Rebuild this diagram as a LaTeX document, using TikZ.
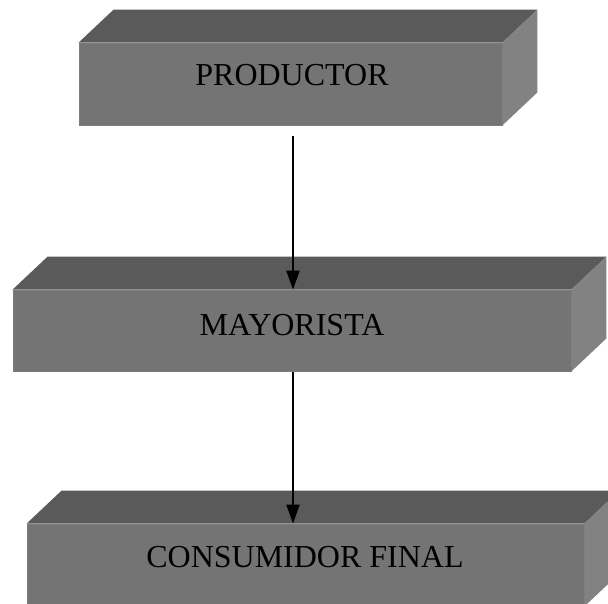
\documentclass[tikz,border=0pt]{standalone}
\usepackage{fontspec}
\setmainfont{Liberation Serif}
\usetikzlibrary{calc,arrows.meta}
\definecolor{frontc}{HTML}{747474}
\definecolor{topc}{HTML}{5A5A5A}
\definecolor{sidec}{HTML}{828282}
\definecolor{edgec}{HTML}{7C7C7C}
\tikzset{
  frontface/.style={rectangle, fill=frontc, draw=edgec, line width=0.8pt, inner sep=0pt},
  boxlabel/.style={font=\fontsize{32}{36}\selectfont, text=black, inner sep=0pt},
  arr/.style={draw=black, line width=2.2pt, -{Triangle[width=13pt,length=19pt]}}
}
\newcommand{\boxsides}[1]{%
  \fill[topc] (#1.north west) -- ++(35,33) -- ($(#1.north east)+(35,33)$) -- (#1.north east) -- cycle;
  \fill[sidec] (#1.north east) -- ++(35,33) -- ($(#1.south east)+(35,33)$) -- (#1.south east) -- cycle;
}
\begin{document}
\begin{tikzpicture}[x=1pt,y=1pt]
\useasboundingbox (0,0) rectangle (608,603);
\fill[white] (0,0) rectangle (608,603);
% boxes
\node[frontface, minimum width=423pt, minimum height=82pt] (p) at (290.5,519) {};
\boxsides{p}
\node[frontface, minimum width=558pt, minimum height=81pt] (m) at (292,272.5) {};
\boxsides{m}
\node[frontface, minimum width=557pt, minimum height=82pt] (c) at (305.5,38) {};
\boxsides{c}
% labels
\node[boxlabel] (pl) at (292,528) {PRODUCTOR};
\node[boxlabel] (ml) at (292,278) {MAYORISTA};
\node[boxlabel] (cl) at (305,46) {CONSUMIDOR FINAL};
% arrows
\coordinate (a1) at (293,467);
\coordinate (a2) at (293,231);
\draw[arr] (a1) -- (a1 |- m.north);
\draw[arr] (a2) -- (a2 |- c.north);
\end{tikzpicture}
\end{document}
